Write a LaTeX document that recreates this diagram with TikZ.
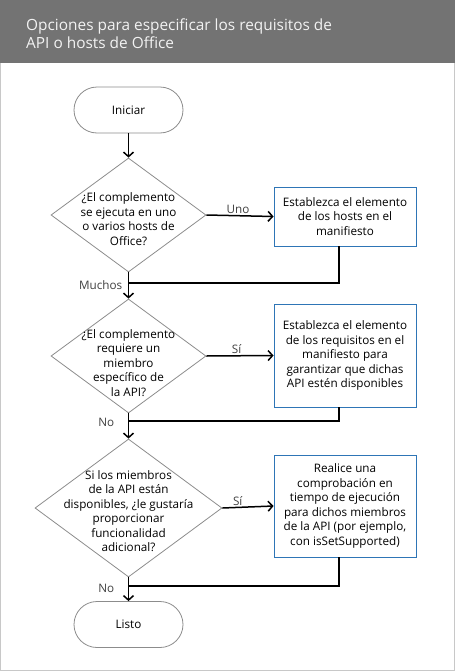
\documentclass[tikz,border=0pt]{standalone}
\usepackage{fontspec}
\setmainfont{Open Sans}
\usetikzlibrary{shapes.geometric,arrows.meta}
\definecolor{headgray}{HTML}{737373}
\definecolor{framegray}{HTML}{C8C8C8}
\definecolor{shapegray}{HTML}{8C8C8C}
\definecolor{boxblue}{HTML}{2E75B6}
\definecolor{labelgray}{HTML}{404040}
\begin{document}
\begin{tikzpicture}[x=1pt, y=-1pt,
    terminal/.style={draw=shapegray, line width=0.8pt, rounded corners=23pt,
        minimum width=109pt, minimum height=46pt, inner sep=0pt,
        font=\fontsize{11.7}{14}\selectfont},
    decision/.style={draw=shapegray, line width=0.8pt, diamond, inner sep=0pt},
    qtext/.style={align=center, inner sep=0pt, font=\fontsize{11.7}{14.5}\selectfont},
    action/.style={draw=boxblue, line width=0.9pt, minimum width=142pt, inner sep=0pt,
        align=center, font=\fontsize{11.7}{14.5}\selectfont},
    flow/.style={line width=1.5pt, -{Straight Barb[length=4.5pt, width=10pt, line width=1.5pt]}},
    mergeline/.style={line width=1.5pt},
    answer/.style={text=labelgray, inner sep=1pt, font=\fontsize{11.7}{14}\selectfont}]
    \useasboundingbox (0,0) rectangle (455,672);
    \fill[headgray] (0,0) rectangle (455,63);
    \draw[framegray, line width=1pt] (0.5,63) -- (0.5,670.5) -- (454.5,670.5) -- (454.5,63);
    \node[anchor=west, align=left, text=white!95!black, inner sep=0pt,
        font=\fontsize{15.4}{18}\selectfont] (title) at (26,34)
        {Opciones para especificar los requisitos de\\API o hosts de Office};

    \node[terminal] (start) at (128.5,110) {Iniciar};

    \node[decision, minimum width=155pt, minimum height=114pt] (q1) at (128.5,215) {};
    \node[qtext] (q1text) at (128.5,219) {¿El complemento\\se ejecuta en uno\\o varios hosts de\\Office?};
    \node[action, minimum height=59pt] (b1) at (345,216.5)
        {Establezca el elemento\\de los hosts en el\\manifiesto};

    \node[decision, minimum width=155pt, minimum height=114pt] (q2) at (128.5,356) {};
    \node[qtext] (q2text) at (128.5,363) {¿El complemento\\requiere un\\miembro\\específico de\\la API?};
    \node[action, minimum height=103pt] (b2) at (345,355.5)
        {Establezca el elemento\\de los requisitos en el\\manifiesto para\\garantizar que dichas\\API estén disponibles};

    \node[decision, minimum width=187pt, minimum height=138pt] (q3) at (128.5,508) {};
    \node[qtext] (q3text) at (128.5,511) {Si los miembros\\de la API están\\disponibles, ¿le gustaría\\proporcionar\\funcionalidad\\adicional?};
    \node[action, minimum height=102pt] (b3) at (345,506)
        {Realice una\\comprobación en\\tiempo de ejecución\\para dichos miembros\\de la API (por ejemplo,\\con isSetSupported)};

    \node[terminal] (done) at (128.5,624.5) {Listo};

    \coordinate (m1) at (128.5,283);
    \coordinate (m2) at (128.5,421);
    \coordinate (m3) at (128.5,586);

    \draw[flow] (start) -- (q1);
    \draw[flow] (q1.east) -- node[answer, above, pos=0.47] {Uno} (b1.west);
    \draw[mergeline] ([xshift=-6pt]b1.south) |- (m1);
    \draw[flow] (q1.south) -- (q2.north);
    \node[answer, anchor=east] (many) at ([xshift=-5pt, yshift=-2pt]m1) {Muchos};

    \draw[flow] (q2.east) -- node[answer, above, pos=0.45] {Sí} (b2.west);
    \draw[mergeline] ([xshift=-6pt]b2.south) |- (m2);
    \draw[flow] (q2.south) -- (q3.north);
    \node[answer, anchor=east] (no1) at ([xshift=-13pt, yshift=-1pt]m2) {No};

    \draw[flow] (q3.east) -- node[answer, above, pos=0.3] {Sí} (b3.west);
    \draw[mergeline] ([xshift=-6pt]b3.south) |- (m3);
    \draw[flow] (q3.south) -- (done.north);
    \node[answer, anchor=east] (no2) at ([xshift=-13pt, yshift=-2pt]m3) {No};
\end{tikzpicture}
\end{document}
